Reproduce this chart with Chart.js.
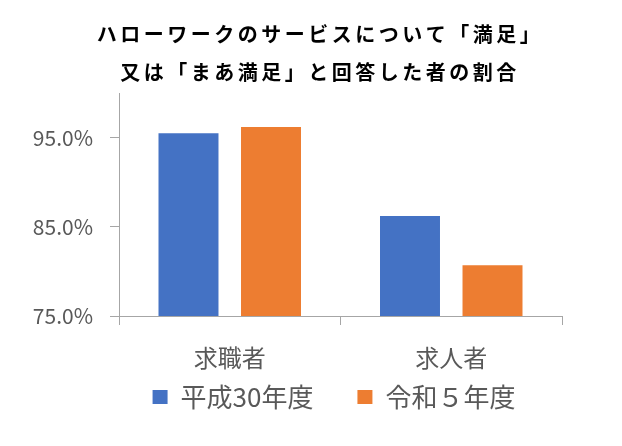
<!DOCTYPE html>
<html>
<head>
<meta charset="utf-8">
<script src="https://cdn.jsdelivr.net/npm/chart.js@4/dist/chart.umd.min.js"></script>
<style>
html,body{margin:0;padding:0;background:#fff;}
#wrap{width:622px;height:446px;position:relative;}
</style>
</head>
<body>
<div id="wrap"><canvas id="c" width="622" height="446"></canvas></div>
<script>
const titleLines = ['ハローワークのサービスについて「満足」', '又は「まあ満足」と回答した者の割合'];
const categories = ['求職者', '求人者'];
const seriesNames = ['平成30年度', '令和５年度'];
const seriesH30 = [95.5, 86.2];
const seriesR5 = [96.2, 80.7];
const yTicks = [75, 85, 95];
const yMin = 75;
const yMax = 100;

const FONT = '"Noto Sans CJK JP", "Noto Sans", sans-serif';
const AXIS = '#a6a6a6';
const TXT = '#595959';

const tweaks = {
  id: 'tweaks',
  beforeDraw(chart) {
    const tb = chart.titleBlock;
    if (tb && !tb._wrapped) {
      const orig = tb.draw.bind(tb);
      tb.draw = function (a) {
        const ctx = chart.ctx;
        ctx.save();
        ctx.letterSpacing = '3.5px';
        orig(a);
        ctx.restore();
      };
      tb._wrapped = true;
    }
  },
  afterLayout(chart) {
    if (chart.titleBlock) {
      chart.titleBlock.left += 29;
      chart.titleBlock.right += 29;
    }
    if (chart.legend) {
      chart.legend.left += 43;
      chart.legend.right += 43;
    }
    if (chart.scales.x) {
      chart.scales.x.bottom += 50;
    }
  }
};

new Chart(document.getElementById('c'), {
  type: 'bar',
  data: {
    labels: categories,
    datasets: [
      { label: seriesNames[0], data: seriesH30, backgroundColor: '#4472C4', borderWidth: 0 },
      { label: seriesNames[1], data: seriesR5, backgroundColor: '#ED7D31', borderWidth: 0 }
    ]
  },
  options: {
    responsive: false,
    animation: false,
    categoryPercentage: 0.745,
    barPercentage: 0.727,
    layout: { padding: { left: 20, right: 60, top: 0, bottom: 26 } },
    plugins: {
      title: {
        display: true,
        text: titleLines,
        color: '#000',
        font: { family: FONT, size: 20, weight: 'bold', lineHeight: 1.9 },
        padding: { top: 15, bottom: 2 }
      },
      legend: {
        position: 'bottom',
        labels: {
          color: TXT,
          font: { family: FONT, size: 26 },
          boxWidth: 15,
          boxHeight: 14,
          padding: 44
        }
      },
      tooltip: { enabled: false }
    },
    scales: {
      x: {
        grid: { drawOnChartArea: false, drawTicks: true, tickLength: 9, color: AXIS, offset: true },
        border: { color: AXIS },
        ticks: { color: TXT, font: { family: FONT, size: 24 }, padding: 18 },
        afterFit(s) { s.height = 24; }
      },
      y: {
        min: yMin,
        max: yMax,
        grid: { drawOnChartArea: false, drawTicks: true, tickLength: 9, color: AXIS },
        border: { color: AXIS },
        ticks: {
          color: TXT,
          font: { family: FONT, size: 21 },
          padding: 17,
          callback: v => v.toFixed(1) + '%'
        },
        afterBuildTicks(s) { s.ticks = yTicks.map(v => ({ value: v })); },
        afterFit(s) { s.width = 99; }
      }
    }
  },
  plugins: [tweaks]
});
</script>
</body>
</html>
